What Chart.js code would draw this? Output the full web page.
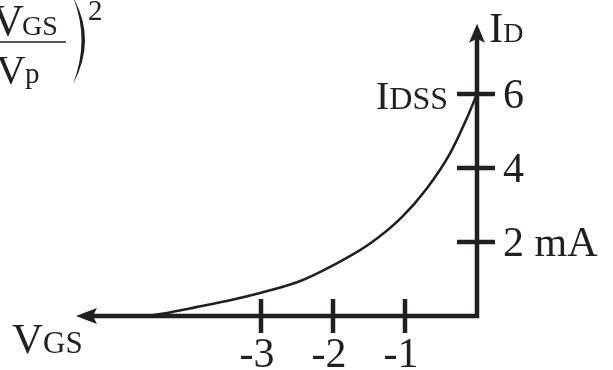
<!DOCTYPE html>
<html>
<head>
<meta charset="utf-8">
<script src="https://cdn.jsdelivr.net/npm/chart.js@4.4.0/dist/chart.umd.min.js"></script>
<style>
  html, body { margin: 0; background: #fff; }
  #wrap { width: 613px; height: 370px; }
</style>
</head>
<body>
<div id="wrap"><canvas id="transferChart"></canvas></div>
<script>
// JFET transfer characteristic: drain current ID (mA) against gate voltage VGS (V)
var vgs = [-4.6, -4.35, -3.9, -3.4, -3.0, -2.5, -2.0, -1.5, -1.05, -0.7, -0.37, -0.14, 0];
var id_mA = [0, 0.07, 0.24, 0.44, 0.63, 0.91, 1.37, 1.94, 2.66, 3.44, 4.41, 5.35, 6];

var x_ticks = [-3, -2, -1];
var x_tick_labels = ["-3", "-2", "-1"];
var y_ticks = [2, 4, 6];
var y_tick_labels = ["2 mA", "4", "6"];

// where the axis arrows end
var vgs_arrow_end = -5.57;
var id_arrow_end = 7.9;

var ink = "#231f20";
var serif = "'Liberation Serif', 'Times New Roman', serif";

var points = vgs.map(function (v, i) { return { x: v, y: id_mA[i] }; });

function font(size) { return size + "px " + serif; }

// text with a smaller subscript part, e.g. I + DSS
function subText(ctx, x, y, big, bigSize, small, smallSize, align) {
  ctx.font = font(bigSize);
  var w1 = ctx.measureText(big).width;
  ctx.font = font(smallSize);
  var w2 = ctx.measureText(small).width;
  var start = align === "right" ? x - w1 - w2 : x;
  ctx.textAlign = "left";
  ctx.font = font(bigSize);
  ctx.fillText(big, start, y);
  ctx.font = font(smallSize);
  ctx.fillText(small, start + w1, y);
}

var axesPlugin = {
  id: "jfetAxes",
  afterDatasetsDraw: function (chart) {
    var ctx = chart.ctx;
    var xs = chart.scales.x, ys = chart.scales.y;
    var x0 = xs.getPixelForValue(0), y0 = ys.getPixelForValue(0);
    var xTip = xs.getPixelForValue(vgs_arrow_end);
    var yTip = ys.getPixelForValue(id_arrow_end);

    ctx.save();
    ctx.strokeStyle = ink;
    ctx.fillStyle = ink;
    ctx.lineCap = "butt";

    // axis lines
    ctx.lineWidth = 4.5;
    ctx.beginPath();
    ctx.moveTo(xTip + 14, y0);
    ctx.lineTo(x0, y0);
    ctx.lineTo(x0, yTip + 14);
    ctx.stroke();

    // arrow heads
    ctx.beginPath();
    ctx.moveTo(xTip, y0);
    ctx.lineTo(xTip + 21, y0 - 8);
    ctx.lineTo(xTip + 17, y0);
    ctx.lineTo(xTip + 21, y0 + 8);
    ctx.closePath();
    ctx.fill();
    ctx.beginPath();
    ctx.moveTo(x0, yTip);
    ctx.lineTo(x0 - 8, yTip + 19);
    ctx.lineTo(x0, yTip + 15);
    ctx.lineTo(x0 + 8, yTip + 19);
    ctx.closePath();
    ctx.fill();

    // tick marks
    ctx.lineWidth = 4.5;
    x_ticks.forEach(function (t) {
      var px = xs.getPixelForValue(t);
      ctx.beginPath();
      ctx.moveTo(px, y0 - 17);
      ctx.lineTo(px, y0 + 17);
      ctx.stroke();
    });
    y_ticks.forEach(function (t) {
      var py = ys.getPixelForValue(t);
      ctx.beginPath();
      ctx.moveTo(x0 - 20, py);
      ctx.lineTo(x0 + 18, py);
      ctx.stroke();
    });

    // tick labels
    ctx.textBaseline = "alphabetic";
    ctx.font = font(42);
    ctx.textAlign = "center";
    x_ticks.forEach(function (t, i) {
      ctx.fillText(x_tick_labels[i], xs.getPixelForValue(t) - 4, y0 + 51);
    });
    ctx.textAlign = "left";
    y_ticks.forEach(function (t, i) {
      ctx.fillText(y_tick_labels[i], x0 + 26, ys.getPixelForValue(t) + 14);
    });

    // axis names
    subText(ctx, x0 + 12, yTip + 18, "I", 43, "D", 28, "left");
    subText(ctx, x0 - 29, ys.getPixelForValue(6) + 15, "I", 41, "DSS", 32, "right");
    subText(ctx, 12, 353, "V", 43, "GS", 31, "left");

    // squared ratio VGS / Vp in the corner
    ctx.textAlign = "left";
    ctx.font = font(44);
    ctx.fillText("V", -8, 35);
    ctx.font = font(28);
    ctx.fillText("GS", 22, 35);
    ctx.font = font(41);
    ctx.fillText("V", -4, 83);
    ctx.font = font(29);
    ctx.fillText("p", 25, 83);
    ctx.lineWidth = 1.6;
    ctx.beginPath();
    ctx.moveTo(0, 42);
    ctx.lineTo(66, 42);
    ctx.stroke();
    ctx.beginPath();
    ctx.moveTo(73, -3);
    ctx.quadraticCurveTo(97, 40, 73, 84);
    ctx.quadraticCurveTo(90, 40, 73, -3);
    ctx.fill();
    ctx.font = font(29);
    ctx.fillText("2", 88, 20);

    ctx.restore();
  }
};

var chart_ctx = document.getElementById("transferChart").getContext("2d");
var transfer_chart = new Chart(chart_ctx, {
  type: "scatter",
  data: {
    datasets: [{
      label: "ID",
      data: points,
      showLine: true,
      borderColor: ink,
      borderWidth: 2.6,
      pointRadius: 0,
      fill: false,
      cubicInterpolationMode: "monotone"
    }]
  },
  options: {
    responsive: true,
    maintainAspectRatio: false,
    animation: false,
    layout: { padding: { left: 9, right: 28, top: 1.5, bottom: 9.6 } },
    plugins: { legend: { display: false }, tooltip: { enabled: false } },
    scales: {
      x: { type: "linear", min: -6.5, max: 1.5, display: false },
      y: { type: "linear", min: -1.2, max: 8.5, display: false }
    }
  },
  plugins: [axesPlugin]
});
</script>
</body>
</html>
